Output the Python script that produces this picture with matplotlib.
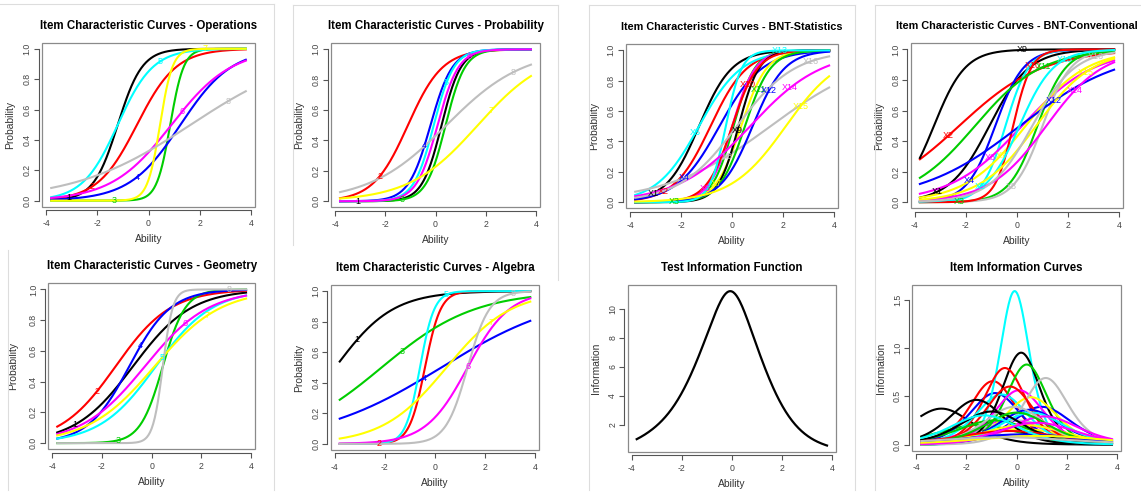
import numpy as np
import matplotlib
matplotlib.use("Agg")
from matplotlib import pyplot as plt
from matplotlib.patches import Rectangle
from matplotlib.lines import Line2D
import matplotlib.transforms as mtransforms

plt.rcParams['font.family'] = ['Liberation Sans', 'DejaVu Sans']

# R default palette 1..8
r_palette = ['#000000', '#FF0000', '#00CD00', '#0000FF',
             '#00FFFF', '#FF00FF', '#FFFF00', '#BEBEBE']

# ability grid used by the item curves
theta = np.linspace(-3.8, 3.8, 241)

# item parameters (slope a, location b, logistic scale)
ops_a = [2.1, 1.3, 3.8, 1.0, 1.45, 0.85, 4.1, 0.44]
ops_b = [-1.2, -0.45, 0.85, 1.25, -1.2, 0.9, 0.45, 1.65]

prob_a = [2.6, 1.45, 2.6, 2.3, 2.5, 2.4, 0.73, 0.65]
prob_b = [0.24, -1.1, 0.4, -0.2, -0.07, 0.08, 1.68, 0.43]

stat_a = [1.55, 1.4, 2.4, 1.2, 1.2, 2.2, 2.0, 0.49,
          2.5, 2.0, 2.0, 1.6, 3.2, 0.71, 0.93, 0.88]
stat_b = [-1.3, -0.85, 0.05, -0.5, -1.3, 0.0, 0.35, 1.5,
          0.25, 0.0, 0.5, 0.8, -0.25, 0.7, 2.1, 0.18]

conv_a = [1.28, 0.61, 1.8, 1.8, 2.2, 0.71, 0.84, 1.8,
          1.63, 2.8, 0.77, 0.51, 1.5, 0.9, 0.9, 1.2]
conv_b = [-1.08, -2.26, 0.8, -0.85, -0.45, 0.2, 0.34, 1.0,
          -3.25, -0.15, -1.64, 0.12, 0.1, 1.15, 0.75, 0.6]

geom_a = [0.85, 0.9, 2.2, 1.2, 0.88, 0.78, 0.75, 5.0]
geom_b = [-0.75, -1.45, 0.45, -0.9, 0.17, -0.27, 0.12, 0.45]

alg_a = [0.87, 3.2, 0.54, 0.4, 3.5, 1.2, 0.78, 2.3]
alg_b = [-3.98, -0.4, -2.13, 0.25, -0.6, 1.3, 0.46, 1.3]

info_a = [1.22, 1.62, 0.9, 1.46, 2.52, 1.0, 0.8, 1.0,
          1.95, 1.78, 1.82, 1.25, 1.44, 1.5, 1.4, 1.66,
          1.36, 1.55, 1.0, 1.2, 1.15, 1.08, 0.9, 1.25,
          1.17, 0.75, 1.15, 0.65, 1.1, 0.95, 0.6, 0.55]
info_b = [-3.0, -0.95, -1.5, -0.86, -0.08, -0.3, 0.2, 0.0,
          0.18, -0.47, 0.4, 1.0, -0.6, 0.1, 0.57, 1.16,
          -1.6, -0.27, -0.9, 0.5, 0.6, 1.1, 0.3, -0.1,
          -1.0, -0.3, 0.0, 0.2, -1.3, 0.8, 0.9, -0.5]

W, H = 1141, 494
fig = plt.figure(figsize=(W / 100, H / 100), dpi=100)

# panel boxes in pixels: left, top, right, bottom
boxes = [(42, 42.7, 255, 206.7), (331, 43.3, 540, 207.3),
         (626, 44.3, 838.3, 208.3), (910.7, 43.3, 1123.3, 208.3),
         (48.3, 283.3, 255, 449.3), (330.7, 285, 539.3, 450),
         (627.7, 285, 836, 451.7), (912.3, 285, 1121, 450.7)]


def make_axes(box):
    l, t, r, b = box
    return fig.add_axes([l / W, 1 - b / H, (r - l) / W, (b - t) / H])


def icc(a, b, x):
    return 1.0 / (1.0 + np.exp(-a * (x - b)))


def iic(a, b, x):
    p = icc(a, b, x)
    return a * a * p * (1 - p)


def r_style(ax, title, ylabel, yticks, ylabels, ylab_off=31.5, tsize=8.3):
    ax.set_xlim(-4.16, 4.16)
    for s in ['top', 'right']:
        ax.spines[s].set_visible(False)
    for s in ['bottom', 'left']:
        ax.spines[s].set_position(('outward', 2.5))
        ax.spines[s].set_color('#555555')
        ax.spines[s].set_linewidth(0.8)
    ax.spines['bottom'].set_bounds(-4, 4)
    ax.spines['left'].set_bounds(yticks[0], yticks[-1])
    ax.add_patch(Rectangle((0, 0), 1, 1, transform=ax.transAxes, fill=False,
                           ec='#8a8a8a', lw=0.9, clip_on=False, zorder=5))
    ax.set_xticks([-4, -2, 0, 2, 4])
    ax.set_xticklabels(['-4', '-2', '0', '2', '4'])
    ax.set_yticks(yticks)
    ax.set_yticklabels(ylabels, rotation=90, va='center')
    ax.tick_params(axis='both', length=3.5, width=0.8, color='#555555',
                   labelsize=6.3, labelcolor='#444444')
    ax.tick_params(axis='x', pad=3)
    ax.tick_params(axis='y', pad=1.5)
    ax.set_title(title, fontsize=tsize, fontweight='bold', pad=10)
    off = mtransforms.ScaledTranslation(0, -32.5 / 100, fig.dpi_scale_trans)
    ax.text(0.5, 0, 'Ability', transform=ax.transAxes + off, ha='center',
            va='center', fontsize=7.4, color='#333333')
    offy = mtransforms.ScaledTranslation(-ylab_off / 100, 0, fig.dpi_scale_trans)
    ax.text(0, 0.5, ylabel, transform=ax.transAxes + offy, ha='center',
            va='center', rotation=90, fontsize=7.4, color='#333333')


def icc_panel(box, title, a_list, b_list, prefix, ylab_off=31.5, tsize=8.3):
    ax = make_axes(box)
    n = len(a_list)
    for i in range(n):
        ax.plot(theta, icc(a_list[i], b_list[i], theta),
                color=r_palette[i % 8], lw=1.5)
    lab_x = np.linspace(-3.1, 3.1, n)
    for i in range(n):
        ax.text(lab_x[i], icc(a_list[i], b_list[i], lab_x[i]), prefix + str(i + 1),
                color=r_palette[i % 8], fontsize=6.5, ha='center', va='center',
                clip_on=True)
    ax.set_ylim(-0.04, 1.04)
    r_style(ax, 'Item Characteristic Curves - ' + title, 'Probability',
            [0, 0.2, 0.4, 0.6, 0.8, 1.0], ['0.0', '0.2', '0.4', '0.6', '0.8', '1.0'],
            ylab_off, tsize)
    return ax


icc_panel(boxes[0], 'Operations', ops_a, ops_b, '')
icc_panel(boxes[1], 'Probability', prob_a, prob_b, '')
icc_panel(boxes[2], 'BNT-Statistics', stat_a, stat_b, 'X', tsize=7.8)
icc_panel(boxes[3], 'BNT-Conventional', conv_a, conv_b, 'X', tsize=7.8)
icc_panel(boxes[4], 'Geometry', geom_a, geom_b, '', 35)
icc_panel(boxes[5], 'Algebra', alg_a, alg_b, '')

# test information = sum of the item information curves
info_items = [iic(a, b, theta) for a, b in zip(info_a, info_b)]
test_info = np.sum(info_items, axis=0)

ax7 = make_axes(boxes[6])
ax7.plot(theta, test_info, color='black', lw=1.6)
ax7.margins(y=0.04)
r_style(ax7, 'Test Information Function', 'Information',
        [2, 4, 6, 8, 10], ['2', '4', '6', '8', '10'])

ax8 = make_axes(boxes[7])
for i, curve in enumerate(info_items):
    ax8.plot(theta, curve, color=r_palette[i % 8], lw=1.5)
ax8.margins(y=0.04)
r_style(ax8, 'Item Information Curves', 'Information',
        [0, 0.5, 1.0, 1.5], ['0.0', '0.5', '1.0', '1.5'])

# light frame lines between the pasted panels
frames = [(274, 4, 274, 490), (0, 4, 274, 4), (293, 5, 293, 245),
          (293, 5, 558, 5), (558, 5, 558, 280), (589, 5, 589, 490),
          (589, 5, 855, 5), (855, 5, 855, 490), (875, 5, 875, 490),
          (875, 5, 1141, 5), (8, 250, 8, 490)]
for x0, y0, x1, y1 in frames:
    fig.add_artist(Line2D([x0 / W, x1 / W], [1 - y0 / H, 1 - y1 / H],
                          transform=fig.transFigure, color='#dddddd', lw=0.8))

fig.savefig('out.png', dpi=100)
